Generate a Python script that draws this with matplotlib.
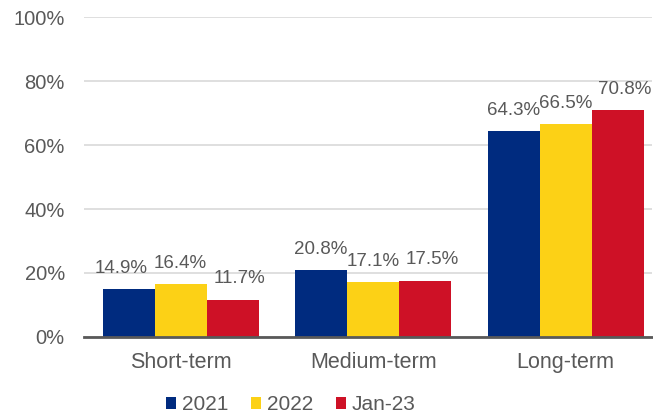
import numpy as np
import matplotlib.pyplot as plt

plt.rcParams['font.family'] = ['Liberation Sans', 'DejaVu Sans']

# data
categories = ["Short-term", "Medium-term", "Long-term"]
series_names = ["2021", "2022", "Jan-23"]
vals_2021 = [14.9, 20.8, 64.3]
vals_2022 = [16.4, 17.1, 66.5]
vals_jan23 = [11.7, 17.5, 70.8]
colors = ["#002B7F", "#FCD116", "#CE1126"]

txt = "#595959"

fig = plt.figure(figsize=(6.53, 4.17), dpi=100)
ax = fig.add_axes([0.129, 0.192, 0.87, 0.767])

x = np.arange(len(categories))
w = 0.27
# small sideways nudge of the labels so they do not touch
shift = [0, 0, 5]
for i, (vals, name) in enumerate(zip([vals_2021, vals_2022, vals_jan23], series_names)):
    bars = ax.bar(x + (i - 1) * w, vals, w, color=colors[i], label=name, zorder=3)
    for j, (b, v) in enumerate(zip(bars, vals)):
        dx = shift[i]
        if i == 0 and j == 0:
            dx = -5
        ax.annotate(f"{v:.1f}%", (b.get_x() + b.get_width() / 2, v),
                    xytext=(dx, 9), textcoords="offset points",
                    ha="center", va="bottom", fontsize=13.5, color=txt)

ax.set_ylim(0, 100)
ax.set_xlim(-0.5, 2.45)
ax.set_yticks(np.arange(0, 101, 20))
ax.set_yticklabels([f"{t}%" for t in range(0, 101, 20)])
ax.set_xticks(x)
ax.set_xticklabels(categories)
ax.tick_params(axis="both", length=0, labelsize=14.5, colors=txt)
ax.tick_params(axis="x", labelsize=15.5, pad=11)
ax.tick_params(axis="y", pad=14)
ax.grid(axis="y", color="#D9D9D9", linewidth=1.2, zorder=0)
for s in ["top", "right", "left"]:
    ax.spines[s].set_visible(False)
ax.spines["bottom"].set_color("#595959")
ax.spines["bottom"].set_linewidth(2)
ax.spines["bottom"].set_zorder(4)

leg = fig.legend(loc="center", bbox_to_anchor=(0.445, 0.03), ncol=3, frameon=False,
                 fontsize=15, handlelength=0.5, handleheight=0.5, handletextpad=0.25,
                 columnspacing=1.1)
for t in leg.get_texts():
    t.set_color(txt)

fig.savefig("out.png", dpi=100)
